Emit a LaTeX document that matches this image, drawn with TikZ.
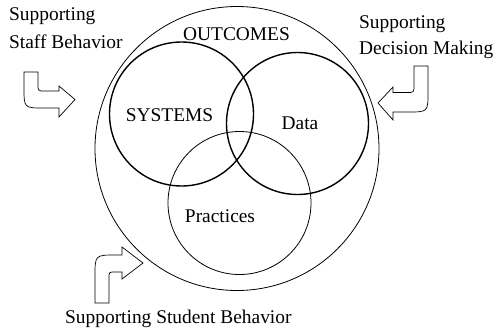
\documentclass[tikz,border=0pt]{standalone}
\usepackage{fontspec}
\setmainfont{Liberation Serif}
\begin{document}
\begin{tikzpicture}[x=1pt,y=-1pt,
  lbl/.style={inner sep=0pt,font=\fontsize{19.4}{24}\selectfont},
  thinc/.style={draw=black,line width=0.8pt},
  thickc/.style={draw=black,line width=1.4pt},
  blockarrow/.style={draw=black,line width=0.7pt,fill=white,line join=miter}]
\useasboundingbox (0,0) rectangle (501,330);
% circles
\node[thinc,circle,minimum size=284pt,inner sep=0pt] (outer) at (237,148.5) {};
\node[thickc,circle,minimum size=144pt,inner sep=0pt] (systems) at (181.5,114) {};
\node[thickc,circle,minimum size=142pt,inner sep=0pt] (data) at (297.5,123.5) {};
\node[thinc,circle,minimum size=143pt,inner sep=0pt] (practices) at (239.5,203) {};
% labels
\node[lbl,anchor=base] (outcomes) at (236.5,40) {OUTCOMES};
\node[lbl,anchor=base] (systxt) at (169.5,121) {SYSTEMS};
\node[lbl,anchor=base] (datatxt) at (300,129) {Data};
\node[lbl,anchor=base] (practxt) at (220,222) {Practices};
\node[lbl,anchor=base west] (staff1) at (9,20.5) {Supporting};
\node[lbl,anchor=base west] (staff2) at (9,48) {Staff Behavior};
\node[lbl,anchor=base west] (dec1) at (359,28.5) {Supporting};
\node[lbl,anchor=base west] (dec2) at (359,54) {Decision Making};
\node[lbl,anchor=base west] (stud) at (65,323) {Supporting Student Behavior};
% block arrows
\draw[blockarrow] (24,72) -- (38,72) -- (38,84) .. controls (38,91) .. (45,91)
  -- (59,91) -- (59,86) -- (75,99.5) -- (59,117) -- (59,108) -- (44,108)
  .. controls (24,108) .. (24,88) -- cycle;
\draw[blockarrow] (428,66) -- (414,66) -- (414,85) .. controls (414,92.5) .. (407,92.5)
  -- (393,92.5) -- (393,87) -- (378,103) -- (393,120) -- (393,112) -- (408,112)
  .. controls (428,112) .. (428,92) -- cycle;
\draw[blockarrow] (95,303) -- (109,303) -- (109,278) .. controls (109,272) .. (115,272)
  -- (122,272) -- (122,279) -- (143,263) -- (122,247) -- (122,255) -- (116,255)
  .. controls (95,255) .. (95,276) -- cycle;
\end{tikzpicture}
\end{document}
